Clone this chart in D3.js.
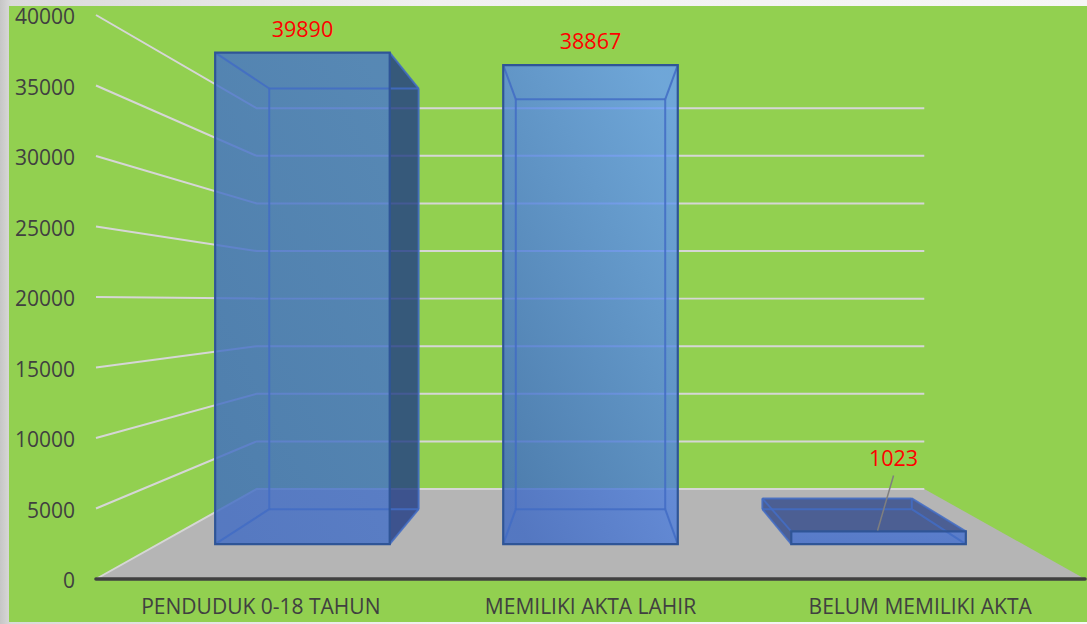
<!DOCTYPE html>
<html>
<head>
<meta charset="utf-8">
<script src="https://cdn.jsdelivr.net/npm/d3@7"></script>
<style>
  html, body { margin: 0; padding: 0; background: #fff; }
  svg { display: block; }
  text { font-family: "Open Sans", sans-serif; }
</style>
</head>
<body>
<div id="chart"></div>
<script>
const categories = ['PENDUDUK 0-18 TAHUN', 'MEMILIKI AKTA LAHIR', 'BELUM MEMILIKI AKTA']
const values = [39890, 38867, 1023]
const valueTicks = [0, 5000, 10000, 15000, 20000, 25000, 30000, 35000, 40000]

const width = 1087
const height = 624

// front plane of the chart box, everything else is projected back from it
const plot = { left: 96, right: 1085, top: 15, bottom: 579 }
const vanish = { x: 590.5, y: 302 }
const depthStrength = 0.4815 // wall ends up at ~0.675 of the front plane
const barDepth = [0.3, 0.7]
const barShare = 0.606 // gap width 65%

const x = d3.scaleBand().domain(categories).range([plot.left, plot.right])
const y = d3.scaleLinear().domain([0, 40000]).range([plot.bottom, plot.top])

const project = (px, value, depth) => {
  const k = 1 / (1 + depthStrength * depth)
  return [vanish.x + (px - vanish.x) * k, vanish.y + (y(value) - vanish.y) * k]
}

const svg = d3.select('#chart').append('svg')
  .attr('width', width)
  .attr('height', height)
  .attr('viewBox', [0, 0, width, height].join(' '))

const defs = svg.append('defs')

const frame = defs.append('linearGradient').attr('id', 'frame')
  .attr('gradientUnits', 'userSpaceOnUse')
  .attr('x1', 0).attr('x2', width).attr('y1', 0).attr('y2', 0)
frame.append('stop').attr('offset', 0).attr('stop-color', '#c6c6c6')
frame.append('stop').attr('offset', 0.01).attr('stop-color', '#dadada')
frame.append('stop').attr('offset', 0.4).attr('stop-color', '#f0f0f0')
frame.append('stop').attr('offset', 1).attr('stop-color', '#f6f6f6')

// front face shading per bar, bottom to upper right
const faceShades = [
  ['rgb(62,106,196)', 'rgb(72,118,205)'],
  ['rgb(60,104,196)', 'rgb(102,156,250)'],
  ['rgb(64,108,205)', 'rgb(68,112,208)']
]
faceShades.forEach((shade, i) => {
  const g = defs.append('linearGradient').attr('id', `face${i}`)
    .attr('x1', 0.15).attr('y1', 1).attr('x2', 0.85).attr('y2', 0)
  g.append('stop').attr('offset', 0).attr('stop-color', shade[0])
  g.append('stop').attr('offset', 1).attr('stop-color', shade[1])
})

svg.append('rect').attr('width', width).attr('height', height).attr('fill', 'url(#frame)')
svg.append('rect').attr('x', 9).attr('y', 6).attr('width', width - 9).attr('height', 616).attr('fill', '#92d050')

const poly = pts => pts.map(p => p.join(',')).join(' ')

// floor
const floorPts = [
  project(plot.left, 0, 0),
  project(plot.left, 0, 1),
  project(plot.right, 0, 1),
  project(plot.right, 0, 0)
]
svg.append('polygon').attr('points', poly(floorPts)).attr('fill', '#b5b5b5')

// gridlines run along the left wall then across the back wall
const gridLine = d3.line()
svg.append('g').attr('class', 'grid')
  .selectAll('path')
  .data(valueTicks)
  .join('path')
  .attr('d', v => gridLine([project(plot.left, v, 0), project(plot.left, v, 1), project(plot.right, v, 1)]))
  .attr('fill', 'none')
  .attr('stroke', '#d6d6d6')
  .attr('stroke-width', 2)

// bars
const barWidth = x.bandwidth() * barShare
const bars = svg.append('g').attr('class', 'bars')
  .selectAll('g')
  .data(categories.map((name, i) => ({ name, value: values[i], i })))
  .join('g')

const corners = d => {
  const cx = x(d.name) + x.bandwidth() / 2
  const x0 = cx - barWidth / 2
  const x1 = cx + barWidth / 2
  const [zf, zb] = barDepth
  return {
    fbl: project(x0, 0, zf), fbr: project(x1, 0, zf),
    ftl: project(x0, d.value, zf), ftr: project(x1, d.value, zf),
    bbl: project(x0, 0, zb), bbr: project(x1, 0, zb),
    btl: project(x0, d.value, zb), btr: project(x1, d.value, zb)
  }
}

const darkFill = 'rgb(31,59,132)'

bars.each(function (d) {
  const c = corners(d)
  const g = d3.select(this)
  const frontCx = (c.ftl[0] + c.ftr[0]) / 2

  // side faces, only the one turned to the viewer gets shaded
  const sideFaces = []
  if (c.fbr[0] < vanish.x - 1) sideFaces.push([c.ftr, c.btr, c.bbr, c.fbr])
  if (c.fbl[0] > vanish.x + 1) sideFaces.push([c.ftl, c.btl, c.bbl, c.fbl])
  if (c.ftl[1] > vanish.y) sideFaces.push([c.ftl, c.ftr, c.btr, c.btl])

  g.selectAll('polygon.side')
    .data(sideFaces)
    .join('polygon')
    .attr('class', 'side')
    .attr('points', poly)
    .attr('fill', darkFill)
    .attr('fill-opacity', sideFaces.length > 1 ? 0.7 : 0.8)
    .attr('stroke', 'none')

  g.append('polygon')
    .attr('points', poly([c.ftl, c.ftr, c.fbr, c.fbl]))
    .attr('fill', `url(#face${d.i})`)
    .attr('fill-opacity', 0.8)

  // inner edges show through the glass front
  const inner = [
    [c.btl, c.btr], [c.btr, c.bbr], [c.bbr, c.bbl], [c.bbl, c.btl],
    [c.ftl, c.btl], [c.ftr, c.btr], [c.fbl, c.bbl], [c.fbr, c.bbr]
  ]
  g.selectAll('line.edge')
    .data(inner)
    .join('line')
    .attr('class', 'edge')
    .attr('x1', e => e[0][0]).attr('y1', e => e[0][1])
    .attr('x2', e => e[1][0]).attr('y2', e => e[1][1])
    .attr('stroke', 'rgb(66,108,196)')
    .attr('stroke-opacity', 0.85)
    .attr('stroke-width', 2)

  g.append('polygon')
    .attr('points', poly([c.ftl, c.ftr, c.fbr, c.fbl]))
    .attr('fill', 'none')
    .attr('stroke', '#2f5597')
    .attr('stroke-width', 2.2)

  // data label; the small bar has its label pulled off with a leader line
  const small = d.value < 5000
  const labelX = small ? frontCx + 15 : frontCx
  const labelY = small ? c.ftl[1] - 65 : c.ftl[1] - 16
  if (small) {
    g.append('line')
      .attr('x1', frontCx - 1).attr('y1', c.ftl[1] - 1)
      .attr('x2', labelX).attr('y2', labelY + 9)
      .attr('stroke', '#7f7f7f')
      .attr('stroke-width', 1.5)
  }
  g.append('text')
    .attr('x', labelX)
    .attr('y', labelY)
    .attr('text-anchor', 'middle')
    .attr('fill', '#ff0000')
    .attr('font-size', 21.5)
    .text(d.value)
})

// axes
svg.append('g')
  .attr('class', 'y-axis')
  .attr('transform', `translate(${plot.left},2)`)
  .call(d3.axisLeft(y).tickValues(valueTicks).tickFormat(d3.format('d')).tickSize(0).tickPadding(21))
  .call(g => g.select('.domain').remove())
  .call(g => g.selectAll('text').attr('fill', '#404040').attr('font-size', 21).style('font-family', '"Open Sans", sans-serif'))

svg.append('g')
  .attr('class', 'x-axis')
  .attr('transform', `translate(0,${plot.bottom})`)
  .call(d3.axisBottom(x).tickSize(0).tickPadding(20))
  .call(g => g.select('.domain').attr('stroke', '#404040').attr('stroke-width', 3.6).attr('stroke-linecap', 'round').attr('d', `M${plot.left},0H${plot.right}`))
  .call(g => g.selectAll('text').attr('fill', '#404040').attr('font-size', 21).style('font-family', '"Open Sans", sans-serif'))
</script>
</body>
</html>
